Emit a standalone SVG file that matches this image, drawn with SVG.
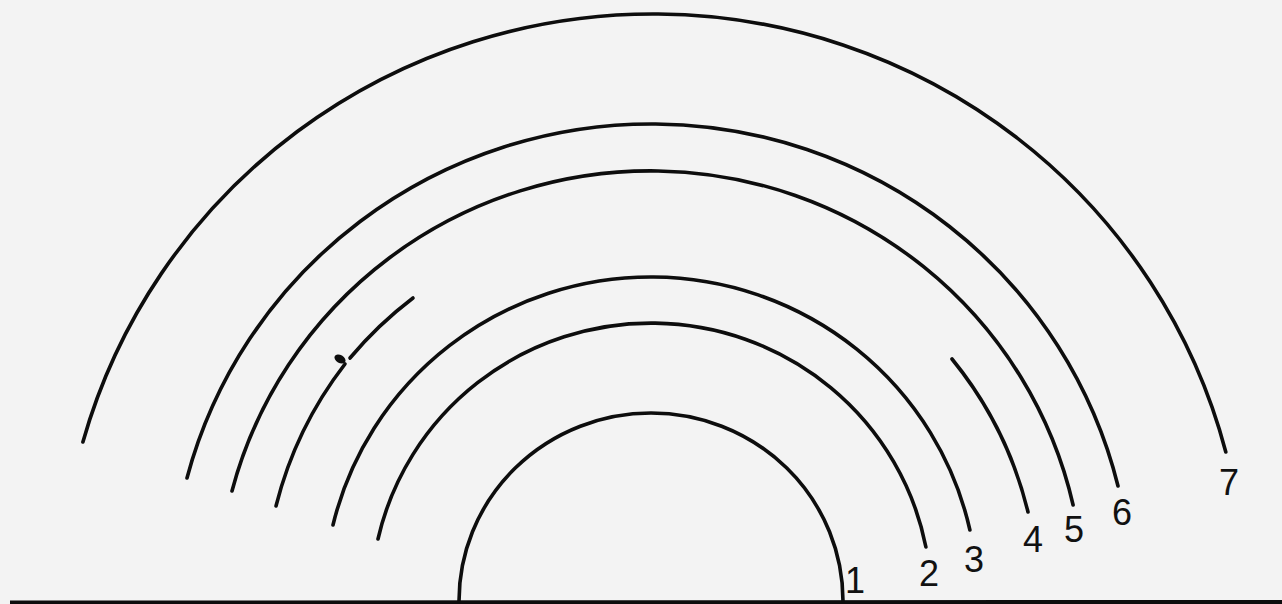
<svg xmlns="http://www.w3.org/2000/svg" width="1282" height="604" viewBox="0 0 1282 604">
<style>
.arc{fill:none;stroke:#0d0d0d;stroke-width:3.6;stroke-linecap:round}
.lbl{font-family:"Liberation Sans","DejaVu Sans",sans-serif;font-size:36px;fill:#111;text-anchor:middle}
</style>
<rect x="0" y="0" width="1282" height="604" fill="#f3f3f3"/>
<g id="connectors">
<line x1="10" y1="602.5" x2="1282" y2="602" stroke="#0d0d0d" stroke-width="4"/>
</g>
<g id="arc1"><path class="arc" d="M 459 601 A 192 188 0 0 1 843 601"/><text class="lbl" x="855" y="593">1</text></g>
<g id="arc2"><path class="arc" d="M 378 539 A 280 277 0 0 1 925.9 547"/><text class="lbl" x="929" y="586">2</text></g>
<g id="arc3"><path class="arc" d="M 333 525 A 326.8 323 0 0 1 969.9 530"/><text class="lbl" x="974" y="572">3</text></g>
<g id="arc4">
<path class="arc" d="M 413 298 A 389 387 0 0 0 350 358"/>
<path class="arc" d="M 345 364 A 389 387 0 0 0 276 506"/>
<ellipse cx="340" cy="359" rx="6" ry="4" transform="rotate(30 340 359)" fill="#0d0d0d"/>
<path class="arc" d="M 952 359 A 389 387 0 0 1 1028 512"/>
<text class="lbl" x="1033" y="552">4</text></g>
<g id="arc5"><path class="arc" d="M 232 491 A 433 429 0 0 1 1073.1 505"/><text class="lbl" x="1074" y="542">5</text></g>
<g id="arc6"><path class="arc" d="M 187 478 A 480.5 476 0 0 1 1118 486"/><text class="lbl" x="1122" y="525">6</text></g>
<g id="arc7"><path class="arc" d="M 82.9 442 A 592 586 0 0 1 1225.8 452"/><text class="lbl" x="1229" y="495">7</text></g>
</svg>
